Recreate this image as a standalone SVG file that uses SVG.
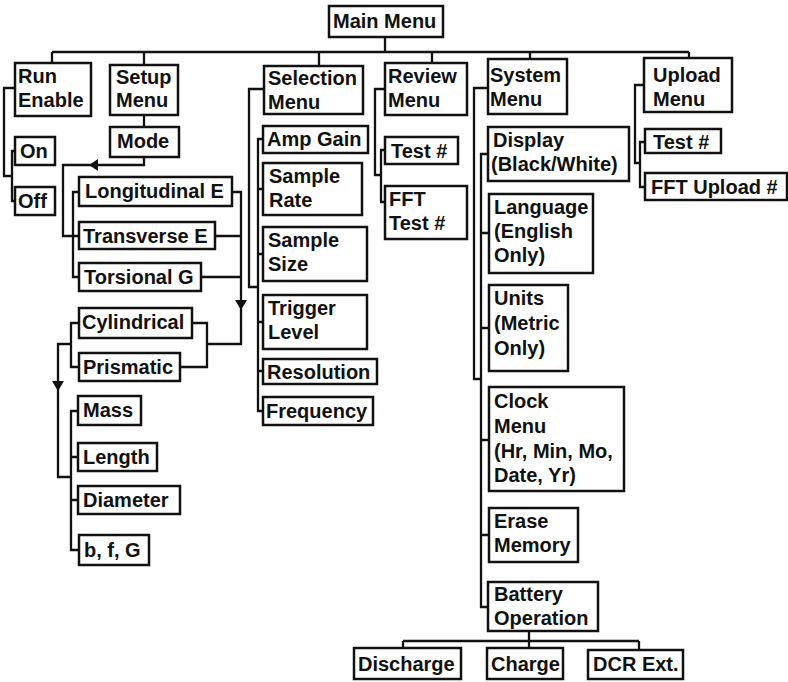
<svg xmlns="http://www.w3.org/2000/svg" width="788" height="682" viewBox="0 0 788 682">
<style>
rect{fill:#fff;stroke:#111;stroke-width:2.5}
text{font-family:"Liberation Sans",Arial,sans-serif;font-weight:bold;font-size:20px;fill:#111}
.c path{fill:none;stroke:#111;stroke-width:2.3}
.c polygon{fill:#111}
</style>
<rect x="0" y="0" width="788" height="682" style="stroke:none"/>
<g class="c" id="connectors">
<path d="M385,37V52M52,52H689M52,52V63M144,52V65M319,52V66M432,52V63M530,52V59M689,52V58"/>
<path d="M15,88H4V176H12M15,151H12V201H15"/>
<path d="M144,115V127M144,157V165H63V236H73M79,192H73V277H79M73,236H79"/>
<polygon points="89,165 98,159 98,171"/>
<path d="M232,192H241V344H207M215,236H241M201,277H241M192,323H207V367H180"/>
<polygon points="235,300 247,300 241,310"/>
<path d="M79,323H71V367H79M71,344H58V477H71M78,411H71V550H79M71,457H78M71,500H78"/>
<polygon points="52,381 64,381 58,391"/>
<path d="M264,89H249V287H258M263,139H258V411H263M258,189H263M258,254H263M258,322H263M258,371H263"/>
<path d="M385,89H375V175H381M385,150H381V202H385"/>
<path d="M488,88H474V379H481M488,154H481V607H488M481,233H489M481,328H489M481,440H489M481,535H489"/>
<path d="M644,85H635V163H640M645,142H640V187H645"/>
<path d="M529,631V641M403,641H639M403,641V648M529,641V648M639,641V650"/>
</g>
<g id="main"><rect x="329" y="6" width="114" height="31"/><text x="333" y="28">Main Menu</text></g>
<g id="run"><rect x="15" y="63" width="76" height="53"/><text x="18" y="83">Run</text><text x="18" y="107">Enable</text></g>
<g id="setup"><rect x="110" y="65" width="68" height="50"/><text x="116" y="84">Setup</text><text x="116" y="107">Menu</text></g>
<g id="mode"><rect x="110" y="127" width="69" height="30"/><text x="117" y="148">Mode</text></g>
<g id="selection"><rect x="264" y="66" width="99" height="48"/><text x="268" y="85">Selection</text><text x="268" y="109">Menu</text></g>
<g id="review"><rect x="385" y="63" width="82" height="52"/><text x="388" y="83">Review</text><text x="388" y="107">Menu</text></g>
<g id="system"><rect x="488" y="59" width="79" height="55"/><text x="490" y="82">System</text><text x="490" y="106">Menu</text></g>
<g id="upload"><rect x="644" y="58" width="88" height="54"/><text x="653" y="82">Upload</text><text x="653" y="106">Menu</text></g>
<g id="on"><rect x="15" y="137" width="40" height="28"/><text x="20" y="158">On</text></g>
<g id="off"><rect x="15" y="187" width="40" height="28"/><text x="18" y="208">Off</text></g>
<g id="longitudinal"><rect x="79" y="177" width="153" height="29"/><text x="85" y="198">Longitudinal E</text></g>
<g id="transverse"><rect x="79" y="222" width="136" height="27"/><text x="83" y="243">Transverse E</text></g>
<g id="torsional"><rect x="79" y="263" width="122" height="28"/><text x="84" y="284">Torsional G</text></g>
<g id="cylindrical"><rect x="79" y="308" width="113" height="30"/><text x="82" y="329">Cylindrical</text></g>
<g id="prismatic"><rect x="79" y="353" width="101" height="28"/><text x="83" y="374">Prismatic</text></g>
<g id="mass"><rect x="78" y="396" width="63" height="29"/><text x="83" y="417">Mass</text></g>
<g id="length"><rect x="78" y="443" width="79" height="28"/><text x="83" y="464">Length</text></g>
<g id="diameter"><rect x="78" y="486" width="102" height="28"/><text x="83" y="507">Diameter</text></g>
<g id="bfg"><rect x="79" y="535" width="70" height="30"/><text x="84" y="557">b, f, G</text></g>
<g id="ampgain"><rect x="263" y="126" width="105" height="27"/><text x="267" y="146">Amp Gain</text></g>
<g id="samplerate"><rect x="263" y="163" width="99" height="52"/><text x="269" y="183">Sample</text><text x="269" y="207">Rate</text></g>
<g id="samplesize"><rect x="263" y="227" width="104" height="54"/><text x="268" y="247">Sample</text><text x="268" y="271">Size</text></g>
<g id="trigger"><rect x="263" y="295" width="104" height="54"/><text x="268" y="315">Trigger</text><text x="268" y="339">Level</text></g>
<g id="resolution"><rect x="263" y="359" width="114" height="25"/><text x="267" y="379">Resolution</text></g>
<g id="frequency"><rect x="263" y="397" width="110" height="28"/><text x="266" y="418">Frequency</text></g>
<g id="reviewtest"><rect x="385" y="137" width="73" height="27"/><text x="391" y="158">Test #</text></g>
<g id="ffttest"><rect x="385" y="186" width="82" height="53"/><text x="389" y="206">FFT</text><text x="389" y="230">Test #</text></g>
<g id="display"><rect x="488" y="127" width="141" height="54"/><text x="493" y="147">Display</text><text x="491" y="171">(Black/White)</text></g>
<g id="language"><rect x="489" y="194" width="104" height="79"/><text x="494" y="214">Language</text><text x="494" y="238">(English</text><text x="494" y="262">Only)</text></g>
<g id="units"><rect x="489" y="285" width="79" height="86"/><text x="494" y="305">Units</text><text x="494" y="330">(Metric</text><text x="494" y="355">Only)</text></g>
<g id="clock"><rect x="489" y="387" width="135" height="104"/><text x="494" y="408">Clock</text><text x="494" y="433">Menu</text><text x="494" y="458">(Hr, Min, Mo,</text><text x="494" y="482">Date, Yr)</text></g>
<g id="erase"><rect x="489" y="508" width="89" height="54"/><text x="494" y="528">Erase</text><text x="494" y="552">Memory</text></g>
<g id="battery"><rect x="488" y="582" width="110" height="49"/><text x="494" y="601">Battery</text><text x="494" y="625">Operation</text></g>
<g id="discharge"><rect x="354" y="648" width="107" height="31"/><text x="358" y="671">Discharge</text></g>
<g id="charge"><rect x="487" y="648" width="76" height="31"/><text x="491" y="671">Charge</text></g>
<g id="dcr"><rect x="588" y="650" width="95" height="29"/><text x="593" y="671">DCR Ext.</text></g>
<g id="uploadtest"><rect x="645" y="129" width="76" height="24"/><text x="653" y="149">Test #</text></g>
<g id="fftupload"><rect x="645" y="173" width="142" height="27"/><text x="651" y="194">FFT Upload #</text></g>
</svg>
